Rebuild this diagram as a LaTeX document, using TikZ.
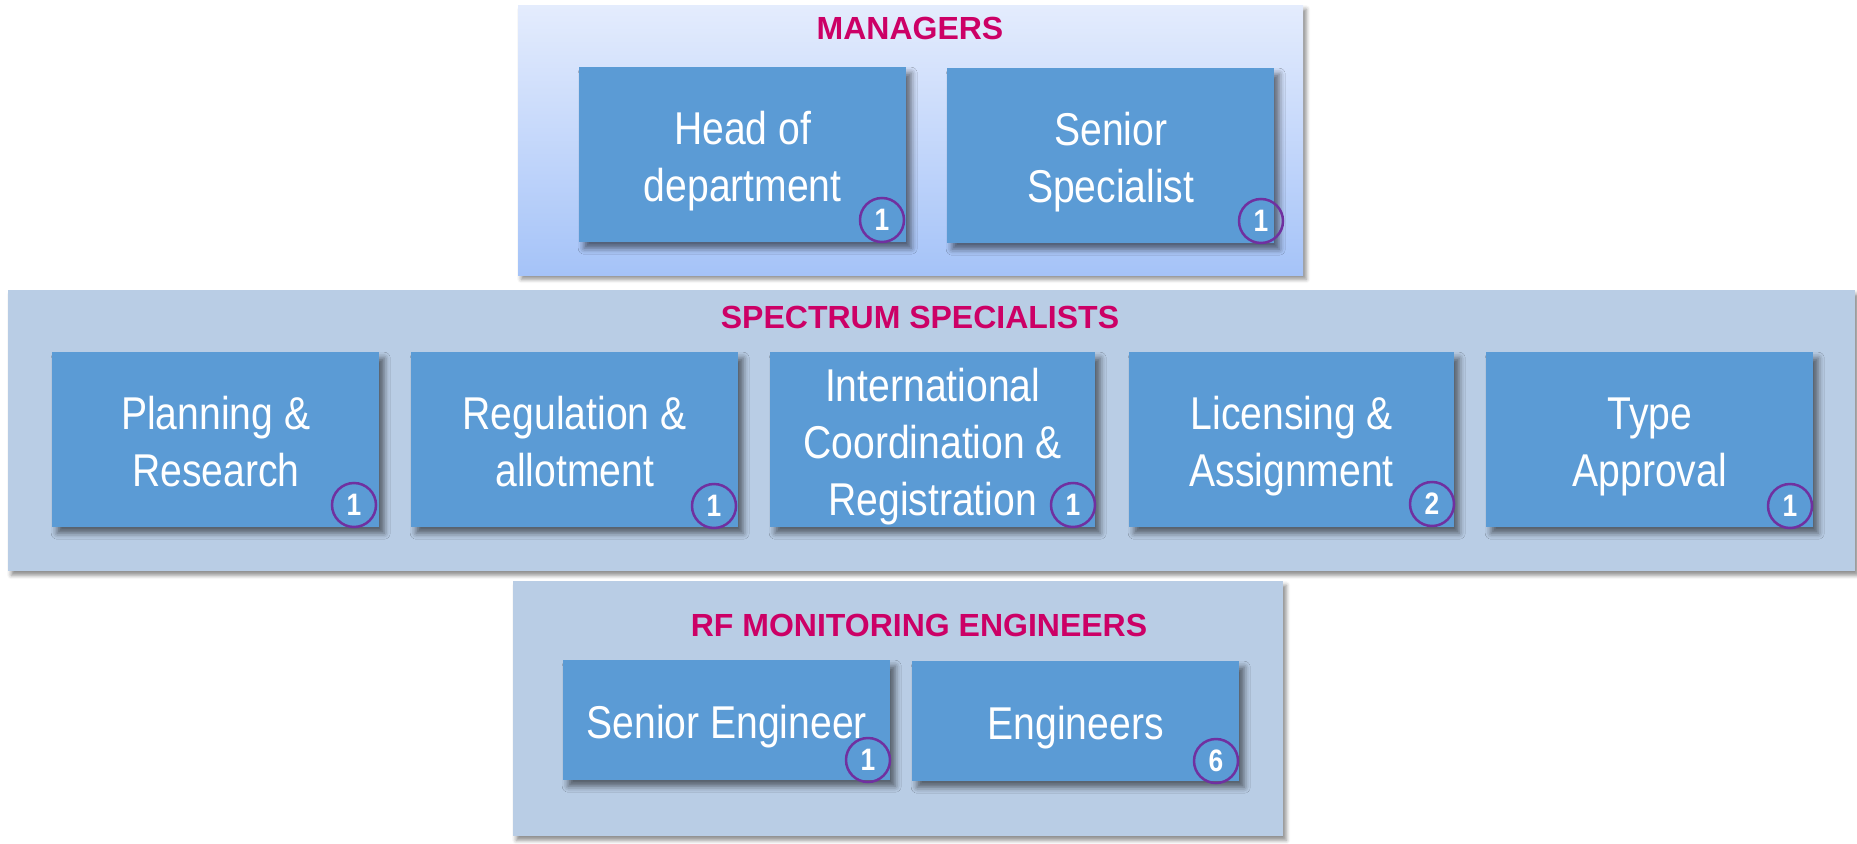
\documentclass[tikz,border=0pt]{standalone}
\usepackage{fontspec}
\setmainfont{Liberation Sans}
\newfontfamily\narrowfont[FakeStretch=0.85]{Liberation Sans}
\usetikzlibrary{shadows.blur}

\definecolor{unitblue}{RGB}{91,155,213}
\definecolor{panelblue}{RGB}{185,205,229}
\definecolor{mgrtop}{RGB}{228,236,253}
\definecolor{mgrbottom}{RGB}{165,195,248}
\definecolor{titlepink}{RGB}{204,0,102}
\definecolor{badgepurple}{RGB}{112,48,160}

\begin{document}
\begin{tikzpicture}[
    x = 1pt, y = -1pt,
    panel/.style = {anchor = north west, fill = panelblue, inner sep = 0pt,
      blur shadow = {shadow xshift = 3pt, shadow yshift = -4pt,
        shadow blur radius = 4pt, shadow opacity = 45}},
    title/.style = {text = titlepink, inner sep = 0pt, text depth = 0pt,
      font = \fontsize{32}{38}\selectfont\bfseries},
    unit/.style = {anchor = north west, fill = unitblue, text = white,
      align = center, inner sep = 0pt, text depth = 0pt,
      minimum width = 327pt, minimum height = 175pt,
      font = \narrowfont\fontsize{46}{57}\selectfont,
      blur shadow = {shadow xshift = 5pt, shadow yshift = -6pt,
        shadow blur radius = 6pt, shadow opacity = 55}},
    one line/.style = {text height = 37pt},
    two lines/.style = {text height = 94pt},
    three lines/.style = {text height = 151pt},
    badge/.style = {circle, draw = badgepurple, line width = 2.5pt,
      minimum size = 44pt, inner sep = 0pt, text = white,
      font = \narrowfont\fontsize{31}{31}\selectfont\bfseries}
  ]
  \path[use as bounding box] (0,0) rectangle (1857,843);

  % Panels
  \node[panel, top color = mgrtop, bottom color = mgrbottom,
    minimum width = 785pt, minimum height = 270pt] (managers) at (518,5) {};
  \node[panel, minimum width = 1847pt, minimum height = 281pt]
    (spectrum) at (8,290) {};
  \node[panel, minimum width = 770pt, minimum height = 255pt]
    (monitoring) at (513,581) {};

  % Titles
  \node[title] (managersT) at (910,28.5) {MANAGERS};
  \node[title] (spectrumT) at (920,317) {SPECTRUM SPECIALISTS};
  \node[title] (monitoringT) at (919,625) {RF MONITORING ENGINEERS};

  % Managers
  \node[unit, two lines] (head) at (579,67) {Head of\\department};
  \node[unit, two lines] (senior) at (947,68) {Senior\\Specialist};

  % Spectrum specialists
  \node[unit, two lines] (planning) at (52,352) {Planning \&\\Research};
  \node[unit, two lines] (regulation) at (411,352) {Regulation \&\\allotment};
  \node[unit, three lines, minimum width = 325pt] (coordination) at (770,352)
    {International\\Coordination \&\\Registration};
  \node[unit, two lines, minimum width = 325pt] (licensing) at (1129,352)
    {Licensing \&\\Assignment};
  \node[unit, two lines] (approval) at (1486,352) {Type\\Approval};

  % RF monitoring
  \node[unit, one line, minimum height = 120pt] (seniorEng) at (563,660)
    {Senior Engineer};
  \node[unit, one line, minimum height = 120pt] (engineers) at (912,661)
    {Engineers};

  % Head counts
  \node[badge] (headN) at (882,220) {1};
  \node[badge] (seniorN) at (1261,221) {1};
  \node[badge] (planningN) at (354,505) {1};
  \node[badge] (regulationN) at (714,506) {1};
  \node[badge] (coordinationN) at (1073,505) {1};
  \node[badge] (licensingN) at (1432,504) {2};
  \node[badge] (approvalN) at (1790,506) {1};
  \node[badge] (seniorEngN) at (868,760) {1};
  \node[badge] (engineersN) at (1216,761) {6};
\end{tikzpicture}
\end{document}
